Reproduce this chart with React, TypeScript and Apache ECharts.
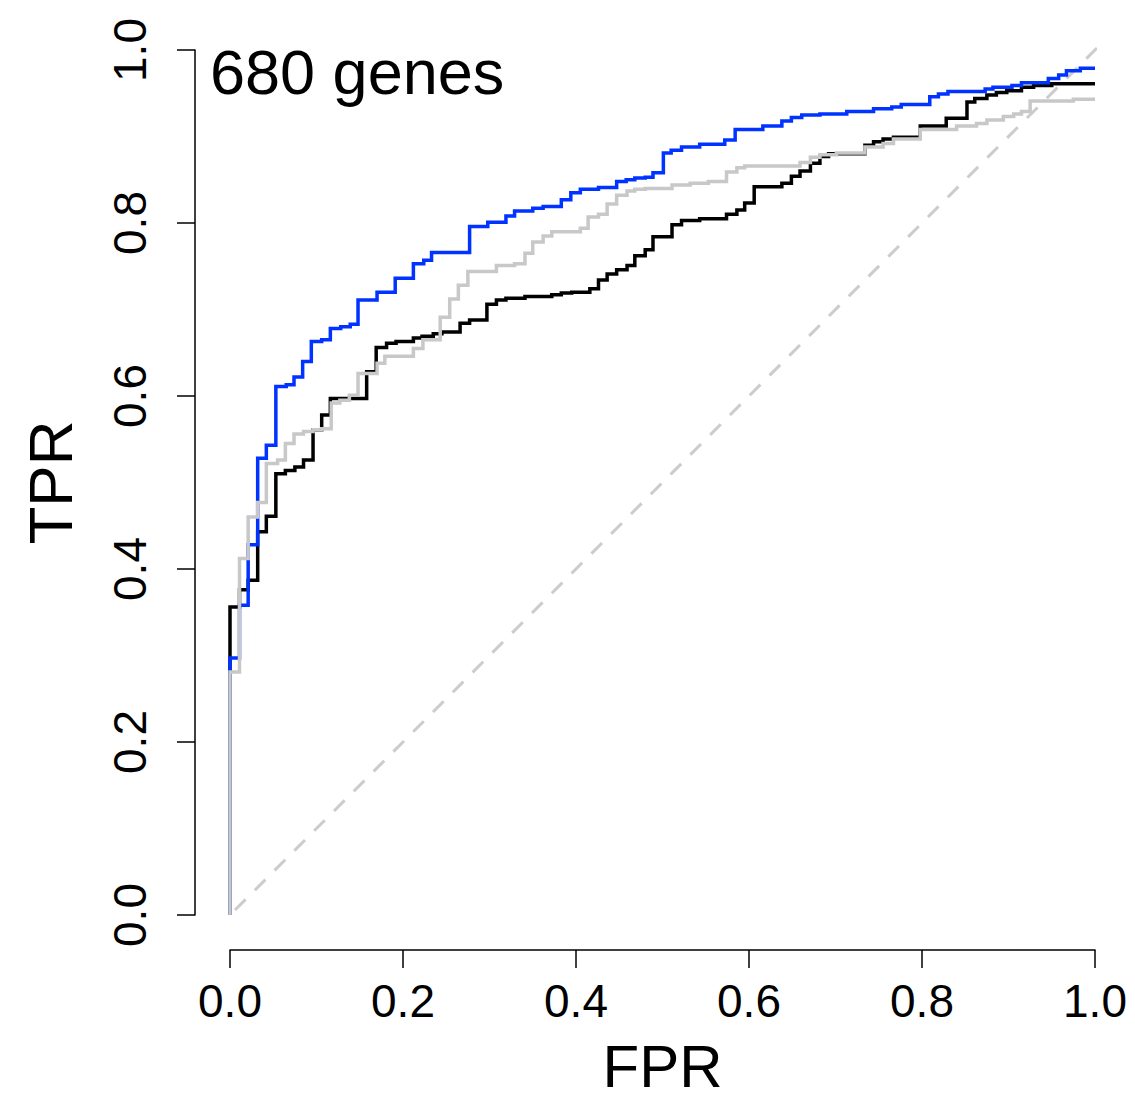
import React, { useEffect, useRef } from "react";
import * as echarts from "echarts";

const xTicks = [0, 0.2, 0.4, 0.6, 0.8, 1.0];
const yTicks = [0, 0.2, 0.4, 0.6, 0.8, 1.0];
const annotation = "680 genes";
const xName = "FPR";
const yName = "TPR";

const diagonal: [number, number][] = [
  [-0.04, -0.04],
  [1.04, 1.04],
];

const blueRoc: [number, number][] = [
  [0, 0], [0, 0.297], [0.011, 0.358], [0.021, 0.428], [0.032, 0.528], [0.042, 0.543],
  [0.053, 0.611], [0.065, 0.613], [0.074, 0.622], [0.084, 0.64], [0.094, 0.663],
  [0.106, 0.665], [0.116, 0.678], [0.128, 0.68], [0.139, 0.683], [0.148, 0.711],
  [0.17, 0.72], [0.191, 0.736], [0.212, 0.753], [0.224, 0.757], [0.233, 0.766],
  [0.277, 0.796], [0.298, 0.801], [0.319, 0.808], [0.329, 0.814], [0.35, 0.817],
  [0.362, 0.819], [0.383, 0.827], [0.394, 0.835], [0.405, 0.839], [0.426, 0.841],
  [0.447, 0.848], [0.458, 0.85], [0.468, 0.852], [0.48, 0.853], [0.489, 0.858],
  [0.501, 0.881], [0.51, 0.884], [0.522, 0.888], [0.543, 0.891], [0.572, 0.896],
  [0.584, 0.908], [0.616, 0.912], [0.638, 0.918], [0.649, 0.922], [0.661, 0.925],
  [0.682, 0.926], [0.713, 0.929], [0.744, 0.932], [0.765, 0.934], [0.776, 0.937],
  [0.809, 0.946], [0.819, 0.949], [0.83, 0.952], [0.873, 0.955], [0.882, 0.957],
  [0.904, 0.959], [0.915, 0.962], [0.946, 0.967], [0.958, 0.971], [0.967, 0.976],
  [0.983, 0.979], [1.0, 0.979],
];

const blackRoc: [number, number][] = [
  [0, 0], [0, 0.356], [0.011, 0.376], [0.021, 0.387], [0.032, 0.443], [0.042, 0.461],
  [0.053, 0.51], [0.064, 0.514], [0.075, 0.518], [0.085, 0.526], [0.096, 0.561],
  [0.106, 0.578], [0.116, 0.597], [0.158, 0.628], [0.169, 0.656], [0.181, 0.661],
  [0.192, 0.663], [0.212, 0.667], [0.222, 0.669], [0.235, 0.672], [0.245, 0.674],
  [0.266, 0.684], [0.277, 0.688], [0.297, 0.706], [0.308, 0.711], [0.319, 0.713],
  [0.341, 0.715], [0.372, 0.717], [0.383, 0.719], [0.395, 0.72], [0.416, 0.724],
  [0.426, 0.734], [0.436, 0.741], [0.447, 0.746], [0.459, 0.751], [0.468, 0.762],
  [0.48, 0.769], [0.489, 0.784], [0.511, 0.798], [0.522, 0.803], [0.543, 0.805],
  [0.574, 0.81], [0.586, 0.815], [0.595, 0.823], [0.606, 0.842], [0.638, 0.846],
  [0.649, 0.854], [0.659, 0.86], [0.671, 0.869], [0.682, 0.877], [0.692, 0.88],
  [0.734, 0.89], [0.744, 0.894], [0.755, 0.897], [0.767, 0.899], [0.798, 0.912],
  [0.828, 0.921], [0.852, 0.94], [0.861, 0.944], [0.875, 0.948], [0.886, 0.951],
  [0.898, 0.953], [0.915, 0.957], [0.929, 0.959], [0.95, 0.961], [1.0, 0.961],
];

const grayRoc: [number, number][] = [
  [0, 0], [0, 0.281], [0.011, 0.412], [0.021, 0.46], [0.032, 0.477], [0.042, 0.522],
  [0.055, 0.526], [0.064, 0.545], [0.074, 0.556], [0.085, 0.559], [0.096, 0.561],
  [0.106, 0.562], [0.117, 0.592], [0.127, 0.595], [0.138, 0.601], [0.148, 0.626],
  [0.17, 0.638], [0.179, 0.646], [0.212, 0.655], [0.223, 0.665], [0.243, 0.691],
  [0.254, 0.712], [0.264, 0.728], [0.275, 0.744], [0.308, 0.751], [0.329, 0.753],
  [0.341, 0.765], [0.35, 0.778], [0.362, 0.785], [0.372, 0.79], [0.405, 0.794],
  [0.414, 0.807], [0.426, 0.81], [0.436, 0.822], [0.447, 0.832], [0.459, 0.837],
  [0.468, 0.839], [0.48, 0.84], [0.511, 0.844], [0.532, 0.846], [0.553, 0.848],
  [0.574, 0.859], [0.586, 0.864], [0.595, 0.866], [0.659, 0.87], [0.671, 0.876],
  [0.682, 0.879], [0.701, 0.881], [0.734, 0.888], [0.755, 0.892], [0.767, 0.897],
  [0.798, 0.908], [0.84, 0.912], [0.863, 0.915], [0.875, 0.919], [0.894, 0.923],
  [0.906, 0.926], [0.915, 0.929], [0.925, 0.941], [0.975, 0.943], [1.0, 0.943],
];

const FONT = "'Liberation Sans', Arial, Helvetica, sans-serif";

export default function App() {
  const ref = useRef<HTMLDivElement>(null);

  useEffect(() => {
    if (!ref.current) return;
    const chart = echarts.init(ref.current, undefined, { renderer: "svg" });
    const stepSeries = (name: string, data: [number, number][], color: string) => ({
      name,
      type: "line",
      step: "end",
      data,
      showSymbol: false,
      symbol: "none",
      clip: false,
      lineStyle: { color, width: 3.5, cap: "butt", join: "miter" },
      silent: true,
    });
    chart.setOption({
      animation: false,
      backgroundColor: "#ffffff",
      grid: {
        left: 230,
        top: 50,
        width: 865,
        height: 865,
        containLabel: false,
        outerBoundsMode: "none",
      },
      xAxis: {
        type: "value",
        min: 0,
        max: 1,
        interval: 0.2,
        offset: 35,
        name: xName,
        nameLocation: "middle",
        nameGap: 89,
        nameTextStyle: { fontFamily: FONT, fontSize: 60, lineHeight: 54, color: "#000" },
        axisLine: { show: true, onZero: false, lineStyle: { color: "#000", width: 1.5 } },
        axisTick: { show: true, length: 18, lineStyle: { color: "#000", width: 1.5 } },
        axisLabel: {
          fontFamily: FONT,
          fontSize: 46,
          color: "#000",
          margin: 28,
          formatter: (v: number) => (xTicks.includes(Math.round(v * 10) / 10) ? v.toFixed(1) : ""),
        },
        splitLine: { show: false },
      },
      yAxis: {
        type: "value",
        min: 0,
        max: 1,
        interval: 0.2,
        offset: 35,
        name: yName,
        nameLocation: "middle",
        nameGap: 114,
        nameRotate: 90,
        nameTextStyle: { fontFamily: FONT, fontSize: 62, color: "#000" },
        axisLine: { show: true, onZero: false, lineStyle: { color: "#000", width: 1.5 } },
        axisTick: { show: true, length: 18, lineStyle: { color: "#000", width: 1.5 } },
        axisLabel: {
          fontFamily: FONT,
          fontSize: 46,
          color: "#000",
          margin: 42,
          rotate: 90,
          formatter: (v: number) => (yTicks.includes(Math.round(v * 10) / 10) ? v.toFixed(1) : ""),
        },
        splitLine: { show: false },
      },
      graphic: [
        {
          type: "text",
          left: 210,
          top: 40,
          style: {
            text: annotation,
            font: `63px ${FONT}`,
            fill: "#000",
          },
        },
      ],
      series: [
        {
          name: "diagonal",
          type: "line",
          data: diagonal,
          showSymbol: false,
          symbol: "none",
          clip: false,
          silent: true,
          lineStyle: { color: "#cccccc", width: 3, type: [15, 13] },
        },
        stepSeries("black", blackRoc, "#000000"),
        stepSeries("blue", blueRoc, "#0033ff"),
        stepSeries("gray", grayRoc, "#c8c8c8"),
      ],
    });
    return () => chart.dispose();
  }, []);

  return <div ref={ref} style={{ width: 1135, height: 1101, margin: -8 }} />;
}
